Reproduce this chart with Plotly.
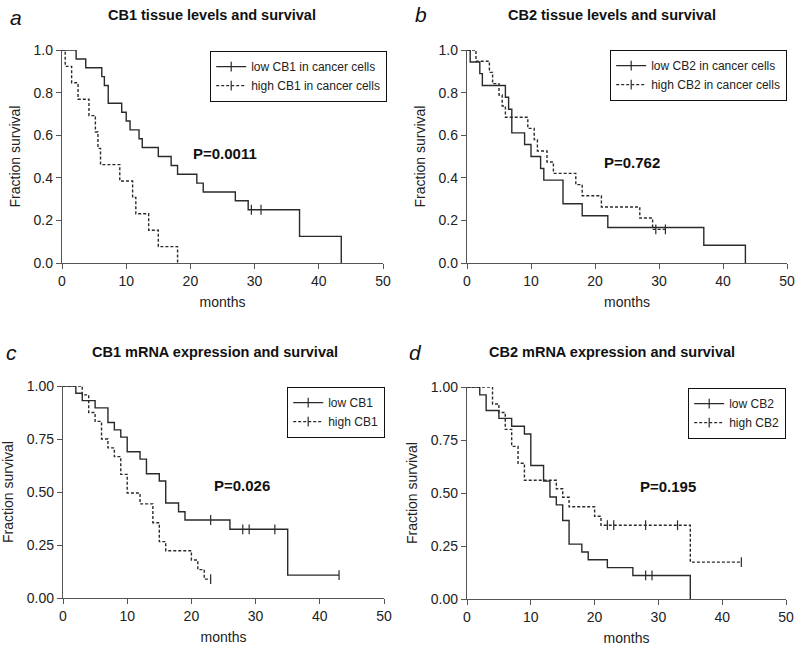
import plotly.graph_objects as go

# ---------------- data ----------------
# Panel a: CB1 tissue levels
a_low_t = [0, 2.2, 3.7, 6.2, 6.6, 7.2, 9.3, 10.0, 10.6, 12.0, 12.5, 15.0, 17.0, 18.0, 21.0, 22.0, 27.0, 29.0, 37.0, 43.5]
a_low_s = [1.0, 0.958, 0.917, 0.875, 0.833, 0.75, 0.708, 0.667, 0.625, 0.583, 0.542, 0.5, 0.458, 0.417, 0.375, 0.333, 0.292, 0.25, 0.125, 0.0]
a_low_cens_t = [29.5, 31.0]
a_low_cens_s = [0.25, 0.25]
a_high_t = [0, 0.5, 1.5, 2.5, 4.2, 5.2, 5.6, 6.0, 9.0, 11.0, 11.5, 13.5, 15.0, 18.0]
a_high_s = [1.0, 0.923, 0.846, 0.769, 0.692, 0.615, 0.538, 0.462, 0.385, 0.308, 0.231, 0.154, 0.077, 0.0]
a_high_cens_t = []
a_high_cens_s = []

# Panel b: CB2 tissue levels
b_low_t = [0, 0.5, 2.0, 2.4, 6.0, 6.5, 7.0, 9.0, 10.0, 11.5, 12.0, 15.0, 18.0, 22.0, 37.0, 43.5]
b_low_s = [1.0, 0.944, 0.889, 0.833, 0.778, 0.722, 0.611, 0.556, 0.5, 0.444, 0.389, 0.278, 0.222, 0.167, 0.083, 0.0]
b_low_cens_t = []
b_low_cens_s = []
b_high_t = [0, 1.4, 3.5, 4.0, 5.0, 5.5, 6.0, 9.5, 10.5, 11.0, 12.5, 13.5, 17.0, 18.0, 21.0, 27.0, 29.0, 31.0]
b_high_s = [1.0, 0.947, 0.895, 0.842, 0.789, 0.737, 0.684, 0.632, 0.579, 0.526, 0.474, 0.421, 0.368, 0.316, 0.263, 0.211, 0.158, 0.158]
b_high_cens_t = [29.5, 31.0]
b_high_cens_s = [0.158, 0.158]

# Panel c: CB1 mRNA expression
c_low_t = [0, 2, 3, 5, 7, 8, 9, 10, 12, 13, 15, 16, 18, 19, 26, 35, 43]
c_low_s = [1.0, 0.966, 0.931, 0.897, 0.828, 0.793, 0.759, 0.690, 0.655, 0.586, 0.552, 0.448, 0.407, 0.368, 0.324, 0.108, 0.108]
c_low_cens_t = [23, 28, 29, 33, 43]
c_low_cens_s = [0.368, 0.324, 0.324, 0.324, 0.108]
c_high_t = [0, 3, 4, 5, 6, 7, 8, 9, 10, 12, 14, 15, 16, 20, 21, 22, 23]
c_high_s = [1.0, 0.958, 0.875, 0.833, 0.75, 0.708, 0.667, 0.583, 0.495, 0.444, 0.355, 0.266, 0.223, 0.179, 0.134, 0.089, 0.089]
c_high_cens_t = [23]
c_high_cens_s = [0.089]

# Panel d: CB2 mRNA expression
d_low_t = [0, 2, 3, 5, 7, 9, 10, 12, 13, 14, 15, 16, 18, 19, 22, 26, 35]
d_low_s = [1.0, 0.963, 0.889, 0.852, 0.815, 0.778, 0.630, 0.556, 0.481, 0.444, 0.370, 0.259, 0.222, 0.185, 0.148, 0.111, 0.0]
d_low_cens_t = [28, 29]
d_low_cens_s = [0.111, 0.111]
d_high_t = [0, 4, 5, 6, 7, 8, 9, 14, 15, 16, 20, 21, 35, 43]
d_high_s = [1.0, 0.92, 0.88, 0.80, 0.72, 0.64, 0.56, 0.52, 0.48, 0.435, 0.39, 0.348, 0.174, 0.174]
d_high_cens_t = [22, 23, 28, 33, 43]
d_high_cens_s = [0.348, 0.348, 0.348, 0.348, 0.174]

panel_titles = ["CB1 tissue levels and survival", "CB2 tissue levels and survival",
                "CB1 mRNA expression and survival", "CB2 mRNA expression and survival"]
panel_letters = ["a", "b", "c", "d"]
legend_low = ["low CB1 in cancer cells", "low CB2 in cancer cells", "low CB1", "low CB2"]
legend_high = ["high CB1 in cancer cells", "high CB2 in cancer cells", "high CB1", "high CB2"]
p_values = ["P=0.0011", "P=0.762", "P=0.026", "P=0.195"]
x_ticks = [0, 10, 20, 30, 40, 50]
y_ticks_ab = [0.0, 0.2, 0.4, 0.6, 0.8, 1.0]
y_ticks_cd = [0.0, 0.25, 0.5, 0.75, 1.0]

series = [
    (a_low_t, a_low_s, a_low_cens_t, a_low_cens_s, a_high_t, a_high_s, a_high_cens_t, a_high_cens_s),
    (b_low_t, b_low_s, b_low_cens_t, b_low_cens_s, b_high_t, b_high_s, b_high_cens_t, b_high_cens_s),
    (c_low_t, c_low_s, c_low_cens_t, c_low_cens_s, c_high_t, c_high_s, c_high_cens_t, c_high_cens_s),
    (d_low_t, d_low_s, d_low_cens_t, d_low_cens_s, d_high_t, d_high_s, d_high_cens_t, d_high_cens_s),
]

# ---------------- layout geometry (pixels in an 800x648 canvas) ----------------
W, H = 800, 648
plot_px = [  # (left, right, top, bottom)
    (62, 383, 50, 263),
    (467, 787, 50, 263),
    (63, 384, 386, 598),
    (467, 786, 387, 599),
]
legend_px = [(387, 51), (787, 50), (385, 387), (786, 388)]   # top-right corners of the legend boxes
pval_px = [(225, 154), (632, 162), (242, 485), (668, 486)]
title_px = [(212, 15), (612, 15), (215, 352), (612, 352)]
letter_px = [(16, 17), (421, 15), (11, 352), (415, 352)]

FONT = "Liberation Sans, Arial, sans-serif"
LINE = "#2a2a2a"
AXIS = "#555555"
DASH = "3px,2px"

fig = go.Figure()
layout = dict(width=W, height=H, margin=dict(l=0, r=0, t=0, b=0, autoexpand=False),
              paper_bgcolor="white", plot_bgcolor="white",
              font=dict(family=FONT, size=13, color="#111"), annotations=[])

marker_style = dict(symbol="line-ns-open", size=7, color=LINE, line=dict(color=LINE, width=1.2))

for i in range(4):
    (lt, ls, lct, lcs, ht, hs, hct, hcs) = series[i]
    xa = "x" if i == 0 else f"x{i+1}"
    ya = "y" if i == 0 else f"y{i+1}"
    lg = "legend" if i == 0 else f"legend{i+1}"
    # step curves
    fig.add_trace(go.Scatter(x=lt, y=ls, mode="lines", line=dict(shape="hv", color=LINE, width=1.4),
                             xaxis=xa, yaxis=ya, showlegend=False, hoverinfo="skip"))
    fig.add_trace(go.Scatter(x=ht, y=hs, mode="lines", line=dict(shape="hv", color=LINE, width=1.4, dash=DASH),
                             xaxis=xa, yaxis=ya, showlegend=False, hoverinfo="skip"))
    # censor marks
    for ct, cs in ((lct, lcs), (hct, hcs)):
        if ct:
            fig.add_trace(go.Scatter(x=ct, y=cs, mode="markers", marker=marker_style,
                                     xaxis=xa, yaxis=ya, showlegend=False, hoverinfo="skip", cliponaxis=False))
    # legend entries
    fig.add_trace(go.Scatter(x=[None], y=[None], mode="lines+markers", name=legend_low[i],
                             line=dict(color=LINE, width=1.2), marker=marker_style,
                             xaxis=xa, yaxis=ya, legend=lg))
    fig.add_trace(go.Scatter(x=[None], y=[None], mode="lines+markers", name=legend_high[i],
                             line=dict(color=LINE, width=1.2, dash=DASH), marker=marker_style,
                             xaxis=xa, yaxis=ya, legend=lg))

    l, r, t, b = plot_px[i]
    xkey = "xaxis" if i == 0 else f"xaxis{i+1}"
    ykey = "yaxis" if i == 0 else f"yaxis{i+1}"
    yt = y_ticks_ab if i < 2 else y_ticks_cd
    layout[xkey] = dict(domain=[l / W, r / W], anchor=ya, range=[0, 50], tickvals=x_ticks,
                        automargin=False,
                        showline=True, linecolor=AXIS, linewidth=1.4, ticks="outside", ticklen=5,
                        tickcolor=AXIS, tickwidth=1.4, showgrid=False, zeroline=False,
                        tickfont=dict(size=14, color="#222"),
                        title=dict(text="months", font=dict(size=14, color="#222"), standoff=9))
    layout[ykey] = dict(domain=[1 - b / H, 1 - t / H], anchor=xa, range=[0, 1.0], tickvals=yt,
                        tickformat=".1f" if i < 2 else ".2f", automargin=False,
                        showline=True, linecolor=AXIS, linewidth=1.4, ticks="outside", ticklen=5,
                        tickcolor=AXIS, tickwidth=1.4, showgrid=False, zeroline=False,
                        tickfont=dict(size=14, color="#222"),
                        title=dict(text="Fraction survival", font=dict(size=14, color="#222"), standoff=9))
    lx, ly = legend_px[i]
    layout[lg] = dict(x=lx / W, y=1 - ly / H, xanchor="right", yanchor="top",
                      bordercolor="#111", borderwidth=1.2, bgcolor="white",
                      font=dict(size=12, color="#222"), itemwidth=30, tracegroupgap=0)
    px_, py_ = pval_px[i]
    layout["annotations"].append(dict(text=f"<b>{p_values[i]}</b>", x=px_ / W, y=1 - py_ / H,
                                      xref="paper", yref="paper", showarrow=False,
                                      xanchor="center", yanchor="middle",
                                      font=dict(size=15, color="#111")))
    tx, ty = title_px[i]
    layout["annotations"].append(dict(text=f"<b>{panel_titles[i]}</b>", x=tx / W, y=1 - ty / H,
                                      xref="paper", yref="paper", showarrow=False,
                                      xanchor="center", yanchor="middle",
                                      font=dict(size=14.5, color="#111")))
    gx, gy = letter_px[i]
    layout["annotations"].append(dict(text=f"<i>{panel_letters[i]}</i>", x=gx / W, y=1 - gy / H,
                                      xref="paper", yref="paper", showarrow=False,
                                      xanchor="center", yanchor="middle",
                                      font=dict(size=21, color="#111")))

fig.update_layout(**layout)
fig.write_html("out.html", config={"displayModeBar": False},
               post_script="document.body.style.margin='0';document.body.style.overflow='hidden';")
